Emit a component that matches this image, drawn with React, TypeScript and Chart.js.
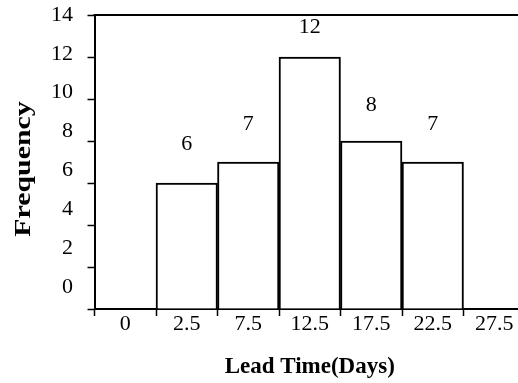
import { useEffect, useRef } from "react";
import { Chart, registerables } from "chart.js";

Chart.register(...registerables);

// Histogram bins (lower-edge labels) and their frequencies
const binLabels = ["0", "2.5", "7.5", "12.5", "17.5", "22.5", "27.5"];
const frequencies: (number | null)[] = [null, 6, 7, 12, 8, 7, null];

// Frequency axis
const yMin = 0;
const yMax = 14;
const yStep = 2;
const yTickValues = [0, 2, 4, 6, 8, 10, 12, 14];
// The printed frequency numbers sit on their own, slightly compressed scale
const labelAxisMin = -1.132;

const xTitle = "Lead Time(Days)";
const yTitle = "Frequency";

const SERIF = "'Liberation Serif', 'Times New Roman', Times, serif";

// Value printed above each bar
const valueLabels = {
  id: "valueLabels",
  afterDatasetsDraw(chart: any) {
    const { ctx } = chart;
    const meta = chart.getDatasetMeta(0);
    const labelScale = chart.scales.yl;
    ctx.save();
    ctx.font = `22px ${SERIF}`;
    ctx.fillStyle = "#000";
    ctx.textAlign = "center";
    ctx.textBaseline = "middle";
    meta.data.forEach((bar: any, i: number) => {
      const v = frequencies[i];
      if (v == null) return;
      ctx.fillText(String(v), bar.x, labelScale.getPixelForValue(v) - 26.5);
    });
    ctx.restore();
  },
};

// Top edge of the plot frame
const topFrame = {
  id: "topFrame",
  afterDraw(chart: any) {
    const { ctx, chartArea } = chart;
    ctx.save();
    ctx.strokeStyle = "#000";
    ctx.lineWidth = 2;
    ctx.beginPath();
    ctx.moveTo(chartArea.left - 1, chartArea.top);
    ctx.lineTo(chartArea.right, chartArea.top);
    ctx.stroke();
    ctx.restore();
  },
};

// Rotated, stretched title for the frequency axis
const frequencyTitle = {
  id: "frequencyTitle",
  afterDraw(chart: any) {
    const { ctx, chartArea } = chart;
    ctx.save();
    ctx.translate(24, (chartArea.top + chartArea.bottom) / 2 + 7);
    ctx.rotate(-Math.PI / 2);
    ctx.scale(1.3, 1);
    ctx.font = `bold 23px ${SERIF}`;
    ctx.fillStyle = "#000";
    ctx.textAlign = "center";
    ctx.textBaseline = "middle";
    ctx.fillText(yTitle, 0, 0);
    ctx.restore();
  },
};

export default function App() {
  const canvasRef = useRef<HTMLCanvasElement | null>(null);

  useEffect(() => {
    const canvas = canvasRef.current;
    if (!canvas) return;
    const chart = new Chart(canvas, {
      type: "bar",
      data: {
        labels: binLabels,
        datasets: [
          {
            data: frequencies,
            backgroundColor: "#ffffff",
            borderColor: "#000000",
            borderWidth: 2,
            barPercentage: 1,
            categoryPercentage: 1,
            xAxisID: "x",
            yAxisID: "y",
          },
        ],
      },
      options: {
        responsive: false,
        animation: false,
        layout: {
          autoPadding: false,
          padding: { left: 0, top: 15, right: 5, bottom: 0 },
        },
        plugins: {
          legend: { display: false },
          tooltip: { enabled: false },
          title: { display: false },
        },
        scales: {
          x: {
            position: "bottom",
            grid: {
              display: true,
              drawOnChartArea: false,
              offset: true,
              tickLength: 7,
              tickWidth: 1.5,
              color: "#000",
            },
            border: { display: true, color: "#000", width: 2 },
            ticks: {
              font: { family: SERIF, size: 22 },
              color: "#000",
              padding: -5,
              maxRotation: 0,
              autoSkip: false,
            },
            title: {
              display: true,
              text: xTitle,
              color: "#000",
              font: { family: SERIF, size: 23, weight: "bold" },
              padding: { top: 2, bottom: 2 },
            },
            afterFit: (s: any) => {
              s.height = 74;
            },
          },
          y: {
            position: "left",
            weight: 0,
            min: yMin,
            max: yMax,
            ticks: { display: false, stepSize: yStep },
            grid: {
              display: true,
              drawOnChartArea: false,
              tickLength: 7,
              tickWidth: 1.5,
              color: "#000",
            },
            border: { display: true, color: "#000", width: 2 },
            afterFit: (s: any) => {
              s.width = 21.5;
            },
          },
          yl: {
            type: "linear",
            position: "left",
            weight: 1,
            min: labelAxisMin,
            max: yMax,
            afterBuildTicks: (s: any) => {
              s.ticks = yTickValues.map((v) => ({ value: v }));
            },
            grid: { display: false, drawTicks: false },
            border: { display: false },
            ticks: {
              font: { family: SERIF, size: 22 },
              color: "#000",
              padding: 0,
            },
            afterFit: (s: any) => {
              s.width = 73;
            },
          },
        },
      },
      plugins: [valueLabels, topFrame, frequencyTitle],
    });
    return () => chart.destroy();
  }, []);

  return (
    <div
      style={{
        position: "fixed",
        left: 0,
        top: 0,
        width: 518,
        height: 383,
        overflow: "hidden",
        background: "#fff",
      }}
    >
      <canvas ref={canvasRef} width={530} height={383} />
    </div>
  );
}
